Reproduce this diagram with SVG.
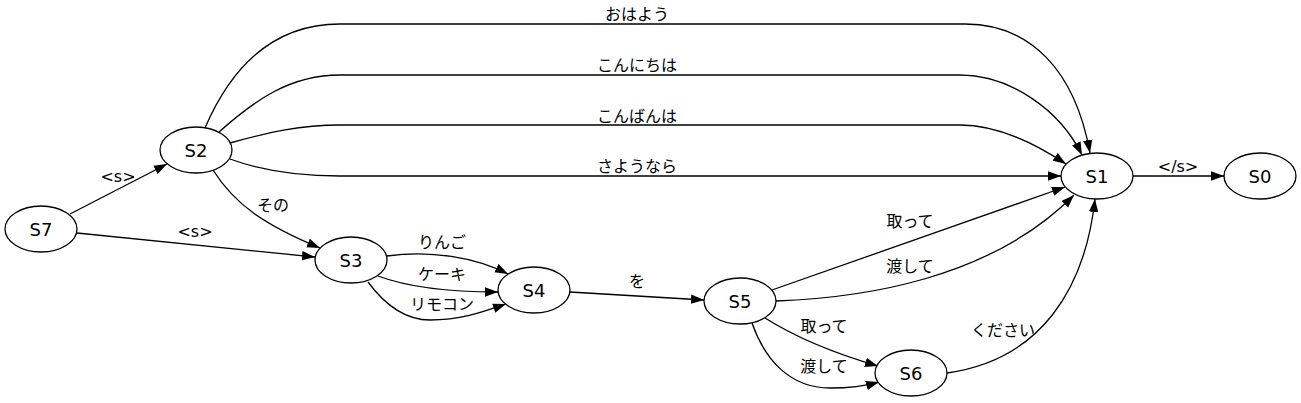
<svg xmlns="http://www.w3.org/2000/svg" width="1301" height="403" viewBox="0 0 1301 403">
<style>
.n ellipse{fill:#fff;stroke:#000;stroke-width:1.3}
text{font-family:"DejaVu Sans","Noto Sans CJK JP",sans-serif;font-size:18px;fill:#000;text-anchor:middle}
.e text{font-size:16px}
.e path{fill:none;stroke:#000;stroke-width:1.3;marker-end:url(#a)}
</style>
<defs>
<marker id="a" markerWidth="14" markerHeight="10" refX="13" refY="5" orient="auto" markerUnits="userSpaceOnUse"><path d="M0,0.3 L13,5 L0,9.7 z" fill="#000"/></marker>
</defs>
<rect width="1301" height="403" fill="#fff"/>
<g id="edges" class="e">
<path d="M70,214 L167,164"/>
<text x="118" y="182">&lt;s&gt;</text>
<path d="M77,233 L315,257"/>
<text x="195" y="237">&lt;s&gt;</text>
<path d="M213,170 C235,205 265,225 320,248"/>
<text x="273" y="211">その</text>
<path d="M205,128 C230,70 270,24 340,24 L965,24 C1030,24 1075,70 1090,153"/>
<text x="637" y="20">おはよう</text>
<path d="M219,132 C255,100 290,75 340,75 L960,75 C1010,75 1060,110 1082,155"/>
<text x="637" y="71">こんにちは</text>
<path d="M230,143 C270,132 300,125 340,125 L960,125 C995,125 1030,140 1066,164"/>
<text x="637" y="122">こんばんは</text>
<path d="M230,159 C260,170 300,176 340,176 L1061,176"/>
<text x="637" y="172">さようなら</text>
<path d="M1133,176 L1224,176"/>
<text x="1178" y="172">&lt;/s&gt;</text>
<path d="M387,256 C430,250 475,257 508,274"/>
<text x="442" y="248">りんご</text>
<path d="M378,276 C410,288 450,292 498,292"/>
<text x="442" y="280">ケーキ</text>
<path d="M368,282 C385,305 405,320 430,320 C460,320 480,313 506,304"/>
<text x="442" y="310">リモコン</text>
<path d="M570,292 L704,300"/>
<text x="637" y="287">を</text>
<path d="M772,290 L1065,187"/>
<text x="910" y="227">取って</text>
<path d="M776,301 C860,298 990,280 1074,195"/>
<text x="910" y="272">渡して</text>
<path d="M765,318 C800,340 840,355 878,366"/>
<text x="824" y="332">取って</text>
<path d="M752,323 C765,360 790,388 830,388 C850,388 865,386 879,382"/>
<text x="824" y="372">渡して</text>
<path d="M947,373 C1040,360 1085,290 1095,199"/>
<text x="1003" y="336">ください</text>
</g>
<g id="S7" class="n"><ellipse cx="41" cy="229" rx="36" ry="23"/><text x="41" y="236">S7</text></g>
<g id="S2" class="n"><ellipse cx="196" cy="150" rx="36" ry="23"/><text x="196" y="157">S2</text></g>
<g id="S3" class="n"><ellipse cx="351" cy="260" rx="36" ry="23"/><text x="351" y="267">S3</text></g>
<g id="S4" class="n"><ellipse cx="534" cy="290" rx="36" ry="23"/><text x="534" y="297">S4</text></g>
<g id="S5" class="n"><ellipse cx="740" cy="301" rx="36" ry="23"/><text x="740" y="308">S5</text></g>
<g id="S6" class="n"><ellipse cx="911" cy="373" rx="36" ry="23"/><text x="911" y="380">S6</text></g>
<g id="S1" class="n"><ellipse cx="1097" cy="176" rx="36" ry="23"/><text x="1097" y="183">S1</text></g>
<g id="S0" class="n"><ellipse cx="1260" cy="176" rx="36" ry="23"/><text x="1260" y="183">S0</text></g>
</svg>
